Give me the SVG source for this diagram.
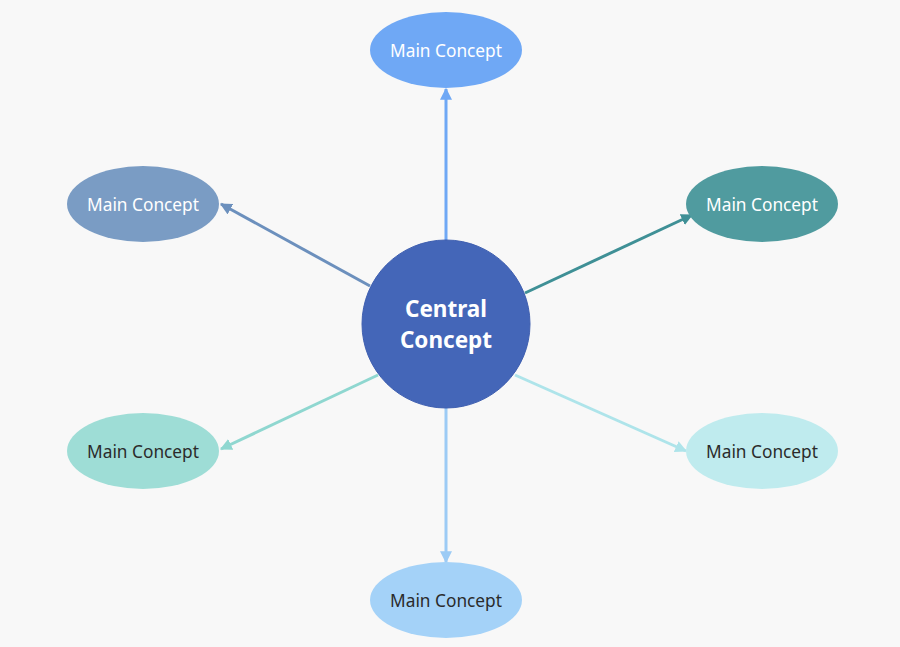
<svg xmlns="http://www.w3.org/2000/svg" width="900" height="647" viewBox="0 0 900 647">
<style>
.lbl{font-family:"Noto Sans","Open Sans","Liberation Sans",sans-serif;font-size:17.3px;text-anchor:middle;dominant-baseline:central}
.w{fill:#ffffff}
.d{fill:#2b2b2b}
.ctr{font-family:"Noto Sans","Open Sans","Liberation Sans",sans-serif;font-size:22.5px;font-weight:bold;fill:#ffffff;text-anchor:middle}
.ln{stroke-width:3;fill:none}
</style>
<defs>
<marker id="a1" viewBox="0 0 10 10" refX="9" refY="5" markerWidth="4" markerHeight="4" orient="auto" markerUnits="strokeWidth"><path d="M0,0L10,5L0,10z" fill="#6FA8F5"/></marker>
<marker id="a2" viewBox="0 0 10 10" refX="9" refY="5" markerWidth="4" markerHeight="4" orient="auto" markerUnits="strokeWidth"><path d="M0,0L10,5L0,10z" fill="#6C90BD"/></marker>
<marker id="a3" viewBox="0 0 10 10" refX="9" refY="5" markerWidth="4" markerHeight="4" orient="auto" markerUnits="strokeWidth"><path d="M0,0L10,5L0,10z" fill="#3F9096"/></marker>
<marker id="a4" viewBox="0 0 10 10" refX="9" refY="5" markerWidth="4" markerHeight="4" orient="auto" markerUnits="strokeWidth"><path d="M0,0L10,5L0,10z" fill="#8FD7D0"/></marker>
<marker id="a5" viewBox="0 0 10 10" refX="9" refY="5" markerWidth="4" markerHeight="4" orient="auto" markerUnits="strokeWidth"><path d="M0,0L10,5L0,10z" fill="#AEE4EA"/></marker>
<marker id="a6" viewBox="0 0 10 10" refX="9" refY="5" markerWidth="4" markerHeight="4" orient="auto" markerUnits="strokeWidth"><path d="M0,0L10,5L0,10z" fill="#9CCBF5"/></marker>
</defs>
<rect width="900" height="647" fill="#F8F8F8"/>
<g id="connectors">
<line class="ln" x1="446" y1="240" x2="446" y2="89" stroke="#6FA8F5" marker-end="url(#a1)"/>
<line class="ln" x1="370" y1="286" x2="221" y2="204" stroke="#6C90BD" marker-end="url(#a2)"/>
<line class="ln" x1="525" y1="293" x2="692" y2="215" stroke="#3F9096" marker-end="url(#a3)"/>
<line class="ln" x1="378" y1="375" x2="221" y2="449" stroke="#8FD7D0" marker-end="url(#a4)"/>
<line class="ln" x1="515" y1="375" x2="686" y2="451" stroke="#AEE4EA" marker-end="url(#a5)"/>
<line class="ln" x1="446" y1="408" x2="446" y2="562" stroke="#9CCBF5" marker-end="url(#a6)"/>
</g>
<g id="central">
<circle cx="446" cy="324" r="84" fill="#4466B8" stroke="#3F5FB0" stroke-width="1"/>
<text class="ctr" x="446" y="317">Central</text>
<text class="ctr" x="446" y="348">Concept</text>
</g>
<g id="node-top">
<ellipse cx="446" cy="50" rx="76" ry="38" fill="#6FA8F5"/>
<text class="lbl w" x="446" y="50">Main Concept</text>
</g>
<g id="node-left-top">
<ellipse cx="143" cy="204" rx="76" ry="38" fill="#7A9CC4"/>
<text class="lbl w" x="143" y="204">Main Concept</text>
</g>
<g id="node-right-top">
<ellipse cx="762" cy="204" rx="76" ry="38" fill="#509B9F"/>
<text class="lbl w" x="762" y="204">Main Concept</text>
</g>
<g id="node-left-bottom">
<ellipse cx="143" cy="451" rx="76" ry="38" fill="#9EDDD6"/>
<text class="lbl d" x="143" y="451">Main Concept</text>
</g>
<g id="node-right-bottom">
<ellipse cx="762" cy="451" rx="76" ry="38" fill="#BFEBEE"/>
<text class="lbl d" x="762" y="451">Main Concept</text>
</g>
<g id="node-bottom">
<ellipse cx="446" cy="600" rx="76" ry="38" fill="#A4D2F8"/>
<text class="lbl d" x="446" y="600">Main Concept</text>
</g>
</svg>
